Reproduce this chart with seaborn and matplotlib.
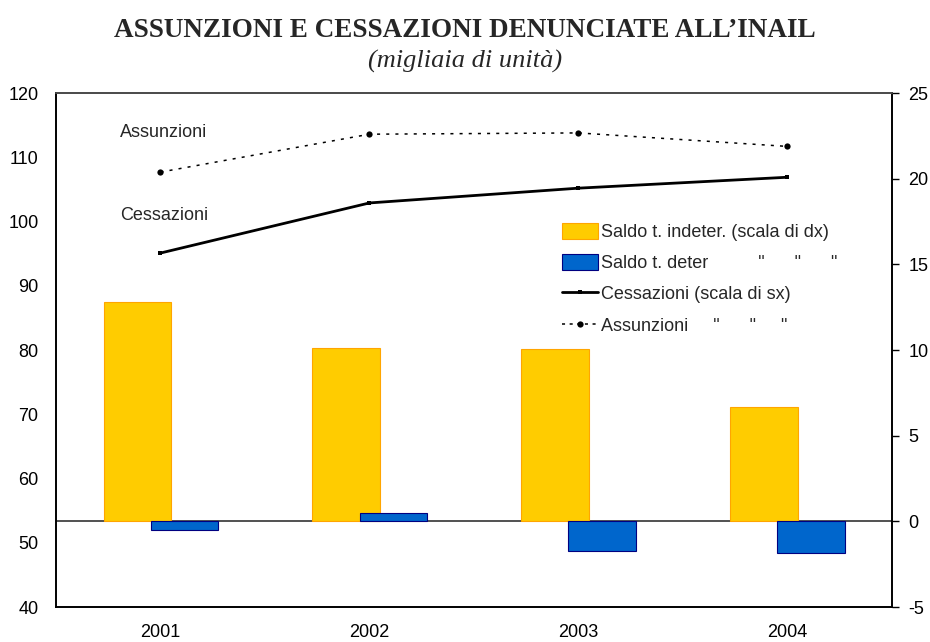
import numpy as np
import pandas as pd
import matplotlib
matplotlib.use("Agg")
import matplotlib.pyplot as plt
import seaborn as sns
from matplotlib.lines import Line2D
from matplotlib.patches import Patch

anni = ["2001", "2002", "2003", "2004"]
saldo_indet = [12.8, 10.1, 10.05, 6.65]
saldo_det = [-0.5, 0.5, -1.75, -1.85]
cessazioni = [95.1, 102.9, 105.2, 106.9]
assunzioni = [107.7, 113.6, 113.8, 111.7]

sns.set_style("white")
plt.rcParams["font.family"] = ["Liberation Sans", "DejaVu Sans"]
plt.rcParams["axes.unicode_minus"] = False

fig, ax = plt.subplots(figsize=(9.3, 6.42), dpi=100)
fig.subplots_adjust(left=0.0602, right=0.959, top=0.855, bottom=0.0545)
ax2 = ax.twinx()
ax.set_zorder(ax2.get_zorder() + 1)
ax.patch.set_visible(False)

# barre (scala di destra)
df_bar = pd.DataFrame({"anno": anni, "indet": saldo_indet, "det": saldo_det})
sns.barplot(data=df_bar, x="anno", y="indet", ax=ax2, color="#FFCC00",
            width=0.325, edgecolor="#FFA500", linewidth=0.8, saturation=1)
n_indet = len(ax2.patches)
sns.barplot(data=df_bar, x="anno", y="det", ax=ax2, color="#0066CC",
            width=0.325, edgecolor="#000080", linewidth=0.8, saturation=1)
for i, p in enumerate(ax2.patches):
    p.set_x(p.get_x() + (-0.11 if i < n_indet else 0.115))
ax2.axhline(0, color="#333333", lw=1.2, zorder=0)

# linee (scala di sinistra)
pos = np.arange(len(anni))
sns.lineplot(x=pos, y=cessazioni, ax=ax, color="black", lw=2,
             marker="s", markersize=2.5, markeredgewidth=0)
sns.lineplot(x=pos, y=assunzioni, ax=ax, color="black", lw=1.1,
             linestyle=(0, (2, 4)), marker="o", markersize=4.5, markeredgewidth=0)

ax.set_xlim(-0.5, 3.5)
ax.set_ylim(40, 120)
ax.set_yticks(range(40, 121, 10))
ax2.set_ylim(-5, 25)
ax2.set_yticks(range(-5, 26, 5))
ax.set_xticks(pos)
ax.set_xticklabels(anni)
ax.set_xlabel("")
ax.set_ylabel("")
ax2.set_xlabel("")
ax2.set_ylabel("")

ax.tick_params(axis="y", left=False, labelsize=13, pad=9, colors="black")
ax.tick_params(axis="x", bottom=False, labelsize=13, pad=9, colors="black")
ax2.tick_params(axis="y", right=True, length=5, width=1, direction="out",
                labelsize=13, pad=7, colors="black")

for a in (ax, ax2):
    for s in a.spines.values():
        s.set_color("black")
        s.set_linewidth(1.2)
ax.spines["top"].set_color("#555555")

ax.text(-0.195, 113.9, "Assunzioni", fontsize=13, va="center", ha="left")
ax.text(-0.195, 101.0, "Cessazioni", fontsize=13, va="center", ha="left")

handles = [
    Patch(facecolor="#FFCC00", edgecolor="#FFA500", lw=0.8),
    Patch(facecolor="#0066CC", edgecolor="#000080", lw=0.8),
    Line2D([], [], color="black", lw=2, marker="s", markersize=2.5, markeredgewidth=0),
    Line2D([], [], color="black", lw=1.1, linestyle=(0, (2, 3)), marker="o",
           markersize=4.5, markeredgewidth=0),
]
labels = [
    "Saldo t. indeter. (scala di dx)",
    'Saldo t. deter          "      "      "',
    "Cessazioni (scala di sx)",
    'Assunzioni     "      "     "',
]
ax.legend(handles, labels, loc="upper left", bbox_to_anchor=(0.605, 0.748),
          frameon=False, fontsize=13, handlelength=2.0, handleheight=1.0,
          handletextpad=0.15, labelspacing=0.72, borderpad=0, borderaxespad=0)

fig.text(0.5, 0.953, "ASSUNZIONI E CESSAZIONI DENUNCIATE ALL\u2019INAIL",
         ha="center", va="center", fontsize=19.5, fontweight="bold",
         family=["Liberation Serif", "DejaVu Serif"])
fig.text(0.5, 0.905, "(migliaia di unit\u00e0)", ha="center", va="center",
         fontsize=19, style="italic", family=["Liberation Serif", "DejaVu Serif"])

fig.savefig("out.png", dpi=100)
